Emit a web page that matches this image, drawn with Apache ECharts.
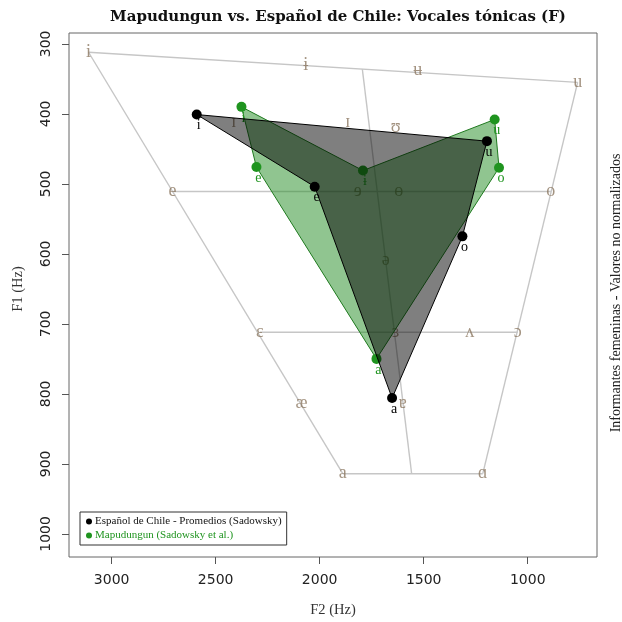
<!DOCTYPE html>
<html>
<head>
<meta charset="utf-8">
<script src="https://cdn.jsdelivr.net/npm/echarts@6/dist/echarts.min.js"></script>
<style>
  html, body { margin: 0; padding: 0; background: #fff; }
  #chart { width: 622px; height: 622px; }
</style>
</head>
<body>
<div id="chart"></div>
<script>
// Reference IPA vowel chart (F2, F1 in Hz)
const ipaSymbols = ['i', 'ɨ', 'ʉ', 'u', 'ɪ', 'ɪ', 'ʊ', 'e', 'ɘ', 'ɵ', 'o', 'ə', 'ɛ', 'ɜ', 'ʌ', 'ɔ', 'æ', 'ɐ', 'a', 'ɑ'];
const ipaF2 = [3111, 2067, 1529, 760, 2413, 1865, 1635, 2707, 1817, 1620, 889, 1683, 2288, 1635, 1279, 1048, 2087, 1601, 1889, 1216];
const ipaF1 = [312, 331, 338, 355, 412, 412, 419, 511, 511, 511, 511, 609, 712, 712, 712, 712, 814, 814, 914, 914];
// Frame edges, as index pairs into the IPA arrays
const ipaEdges = [[0, 3], [0, 18], [3, 19], [7, 10], [12, 15], [18, 19]];
// Central (front/back divider) line
const centralF2 = [1795, 1558];
const centralF1 = [336, 914];

// Español de Chile - promedios (Sadowsky)
const esName = 'Español de Chile - Promedios (Sadowsky)';
const esVowels = ['i', 'e', 'a', 'o', 'u'];
const esF2 = [2591, 2024, 1652, 1314, 1196];
const esF1 = [401, 504, 806, 575, 439];

// Mapudungun (Sadowsky et al.)
const mapName = 'Mapudungun (Sadowsky et al.)';
const mapVowels = ['i', 'e', 'a', 'o', 'u', 'ɨ'];
const mapF2 = [2376, 2304, 1727, 1138, 1159, 1792];
const mapF1 = [390, 476, 750, 477, 408, 481];

// Axis ticks
const xTicks = [3000, 2500, 2000, 1500, 1000];
const yTicks = [300, 400, 500, 600, 700, 800, 900, 1000];

const SERIF = '"Liberation Serif", "DejaVu Serif", serif';
const GREEN = '#1f941f';
const IPA_COLOR = '#8c7862';
const FRAME_COLOR = '#c6c6c6';

const series = [];

// IPA frame lines
ipaEdges.forEach(([a, b]) => {
  series.push({
    type: 'line', silent: true, z: 1, showSymbol: false, symbol: 'none',
    lineStyle: { color: FRAME_COLOR, width: 1.4 },
    data: [[ipaF2[a], ipaF1[a]], [ipaF2[b], ipaF1[b]]]
  });
});
series.push({
  type: 'line', silent: true, z: 1, showSymbol: false, symbol: 'none',
  lineStyle: { color: FRAME_COLOR, width: 1.4 },
  data: centralF2.map((x, i) => [x, centralF1[i]])
});

// IPA symbols
series.push({
  type: 'scatter', silent: true, z: 2, symbolSize: 1,
  itemStyle: { color: 'rgba(0,0,0,0)' },
  label: {
    show: true, position: 'inside', formatter: '{b}',
    color: IPA_COLOR, fontFamily: SERIF, fontSize: 18
  },
  data: ipaSymbols.map((s, i) => ({ name: s, value: [ipaF2[i], ipaF1[i]] }))
});

function polygon(f2, f1, fill, stroke, z) {
  return {
    type: 'custom', silent: true, z: z,
    data: f2.map((x, i) => [x, f1[i]]),
    encode: { x: 0, y: 1 },
    renderItem: function (params, api) {
      if (params.dataIndex !== 0) return null;
      const pts = f2.map((x, i) => api.coord([x, f1[i]]));
      return { type: 'polygon', shape: { points: pts }, style: { fill: fill, stroke: stroke, lineWidth: 1 } };
    }
  };
}

function points(name, vowels, f2, f1, color, z) {
  return {
    type: 'scatter', name: name, z: z, symbolSize: 10, silent: true,
    itemStyle: { color: color, opacity: 1 },
    label: {
      show: true, position: 'inside', offset: [2, 11], formatter: '{b}',
      color: color, fontFamily: SERIF, fontSize: 14
    },
    data: vowels.map((v, i) => ({ name: v, value: [f2[i], f1[i]] }))
  };
}

series.push(polygon(mapF2, mapF1, 'rgba(34,139,34,0.5)', '#1f7a1f', 3));
series.push(points(mapName, mapVowels, mapF2, mapF1, GREEN, 4));
series.push(polygon(esF2, esF1, 'rgba(0,0,0,0.5)', '#000', 5));
series.push(points(esName, esVowels, esF2, esF1, '#000', 6));

const plain = v => String(v);

const chart = echarts.init(document.getElementById('chart'), null, { renderer: 'canvas' });
chart.setOption({
  animation: false,
  backgroundColor: '#fff',
  grid: { left: 69, right: 25, top: 33, bottom: 65, show: true, borderColor: '#666', borderWidth: 1, backgroundColor: 'transparent' },
  xAxis: {
    type: 'value', inverse: true, min: 667, max: 3205,
    axisLine: { show: false }, splitLine: { show: false },
    axisTick: { show: true, length: 7, customValues: xTicks, lineStyle: { color: '#555' } },
    axisLabel: { customValues: xTicks, formatter: plain, margin: 16, fontSize: 14, fontFamily: '"DejaVu Sans", sans-serif', color: '#222' }
  },
  yAxis: {
    type: 'value', inverse: true, min: 284.5, max: 1033,
    axisLine: { show: false }, splitLine: { show: false },
    axisTick: { show: true, length: 7, customValues: yTicks, lineStyle: { color: '#555' } },
    axisLabel: { customValues: yTicks, formatter: plain, rotate: 90, margin: 16, fontSize: 14, fontFamily: '"DejaVu Sans", sans-serif', color: '#222' }
  },
  legend: {
    data: [
      { name: esName, textStyle: { color: '#111' } },
      { name: mapName, textStyle: { color: GREEN } }
    ],
    selectedMode: false, orient: 'vertical', left: 80, top: 512,
    icon: 'circle', itemWidth: 6, itemHeight: 6, itemGap: 3,
    borderColor: '#333', borderWidth: 1, padding: [4, 5, 4, 6],
    textStyle: { fontFamily: SERIF, fontSize: 11, padding: [0, 0, 0, -2] }
  },
  graphic: [
    { type: 'text', x: 338, y: 17, style: { text: 'Mapudungun vs. Español de Chile: Vocales tónicas (F)', font: 'bold 15px "DejaVu Serif"', align: 'center', verticalAlign: 'middle', fill: '#111' } },
    { type: 'text', x: 333, y: 610, style: { text: 'F2 (Hz)', font: '14.5px "Liberation Serif", "DejaVu Serif"', align: 'center', verticalAlign: 'middle', fill: '#333' } },
    { type: 'text', x: 18, y: 289, rotation: Math.PI / 2, style: { text: 'F1 (Hz)', font: '14.5px "Liberation Serif", "DejaVu Serif"', align: 'center', verticalAlign: 'middle', fill: '#333' } },
    { type: 'text', x: 616, y: 293, rotation: Math.PI / 2, style: { text: 'Informantes femeninas - Valores no normalizados', font: '14px "Liberation Serif", "DejaVu Serif"', align: 'center', verticalAlign: 'middle', fill: '#222' } }
  ],
  series: series
});
</script>
</body>
</html>
